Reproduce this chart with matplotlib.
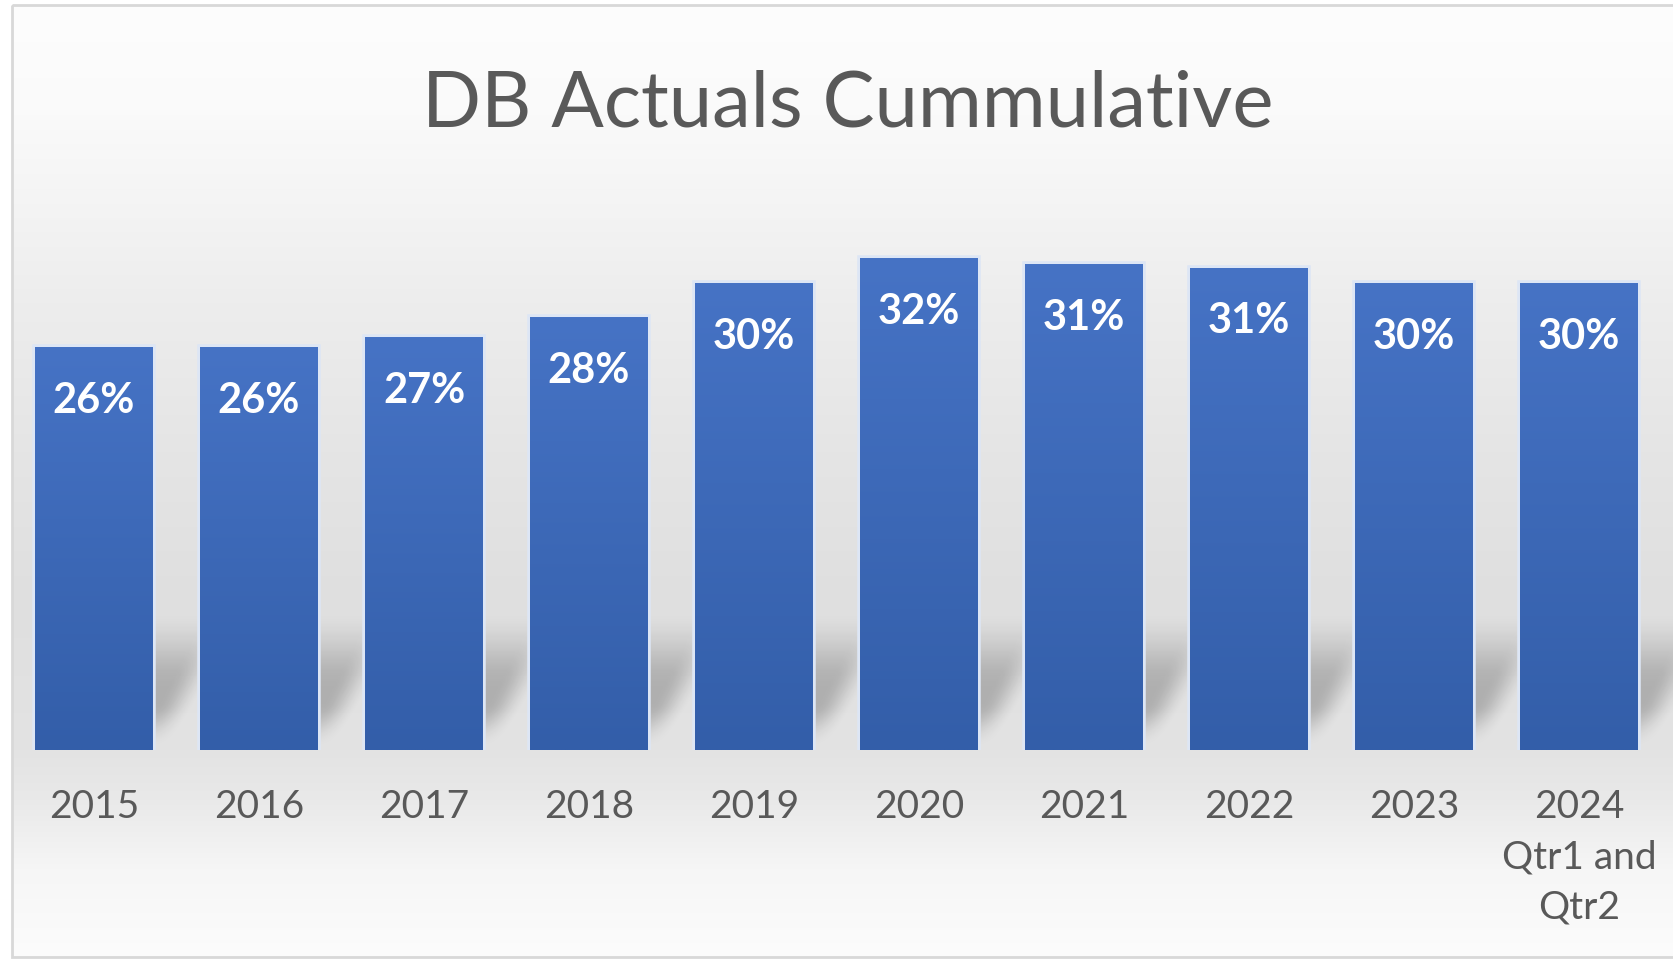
import numpy as np
import matplotlib
matplotlib.use("Agg")
import matplotlib.pyplot as plt
from matplotlib.colors import LinearSegmentedColormap
from matplotlib.patches import Rectangle

years = ["2015", "2016", "2017", "2018", "2019", "2020", "2021", "2022", "2023",
         "2024\nQtr1 and\nQtr2"]
values = [26.0, 26.0, 26.6, 27.9, 30.1, 31.7, 31.3, 31.1, 30.1, 30.1]
title = "DB Actuals Cummulative"

W, H = 1673, 959
fig = plt.figure(figsize=(W / 100, H / 100), dpi=100)
fig.patch.set_facecolor("white")

# background gradient of the chart area
bg = fig.add_axes([0, 0, 1, 1], zorder=0)
bg.axis("off")
stops_y = [0, 110, 200, 300, 450, 600, 750, 800, 870, 959]
stops_g = [253, 250, 244, 237, 229, 223, 227, 233, 246, 252]
g = np.interp(np.arange(H), stops_y, stops_g) / 255.0
grad = np.repeat(g[:, None], 4, axis=1)
bg.imshow(np.dstack([grad, grad, grad]), extent=[12, W, 957, 5], aspect="auto",
          interpolation="bilinear")
bg.add_patch(Rectangle((12, 5), W, 952, fill=False, edgecolor="#d8d8d8", lw=2))
bg.set_xlim(0, W)
bg.set_ylim(H, 0)

ax = fig.add_axes([0, 209 / H, 1, 543 / H], zorder=1)
ax.patch.set_alpha(0)
x = np.arange(len(values))
width = 0.715
xlim = (-0.57, 9.57)
ylim = (0, 35)

# soft perspective shadows behind the bars
xs = np.linspace(xlim[0], xlim[1], 900)
ys = np.linspace(0, 12, 240)
XX, YY = np.meshgrid(xs, ys)
shade = np.zeros_like(XX)
k = 0.05
for xi in x:
    u = XX - k * YY - xi
    soft = 0.18 + 0.012 * YY
    mh = np.clip((width / 2 - np.abs(u)) / soft + 0.5, 0, 1)
    mh = mh * mh * (3 - 2 * mh)
    rise = np.clip(YY / 3.0, 0, 1)
    fall = np.clip((9.0 - YY) / 5.0, 0, 1)
    mv = (rise * rise * (3 - 2 * rise)) * (fall * fall * (3 - 2 * fall))
    shade = np.maximum(shade, mh * mv)
rgba = np.zeros(XX.shape + (4,))
rgba[..., 3] = 0.22 * shade
ax.imshow(rgba, extent=[xlim[0], xlim[1], 0, 12], origin="lower", aspect="auto",
          zorder=1, interpolation="bilinear")

# light glow round the bars
ax.bar(x, values, width=width, color="none", edgecolor="#dde6f5", linewidth=4, zorder=2)
bars = ax.bar(x, values, width=width, color="#3d68b8", zorder=3)
blue = LinearSegmentedColormap.from_list("blue", ["#335ea9", "#4673c5"])
vgrad = np.linspace(1, 0, 256).reshape(-1, 1)
for b, xi, v in zip(bars, x, values):
    im = ax.imshow(vgrad, extent=[xi - width / 2, xi + width / 2, 0, v], cmap=blue,
                   aspect="auto", zorder=3.5, vmin=0, vmax=1)
    im.set_clip_path(b)
    ax.annotate(f"{round(v)}%", (xi, v), xytext=(0, -47.5), textcoords="offset points",
                ha="center", va="baseline", color="white", fontsize=30,
                fontweight="bold", family="Lato", zorder=5)

ax.set_xlim(*xlim)
ax.set_ylim(*ylim)
ax.set_xticks(x, years, fontsize=28, color="#595959", family="Lato", linespacing=1.5)
ax.tick_params(axis="x", length=0, pad=28)
ax.set_yticks([])
for s in ax.spines.values():
    s.set_visible(False)

fig.text(848 / W, 1 - 126 / H, title, ha="center", va="baseline", fontsize=56,
         color="#595959", family="Lato")

fig.savefig("out.png", dpi=100)
